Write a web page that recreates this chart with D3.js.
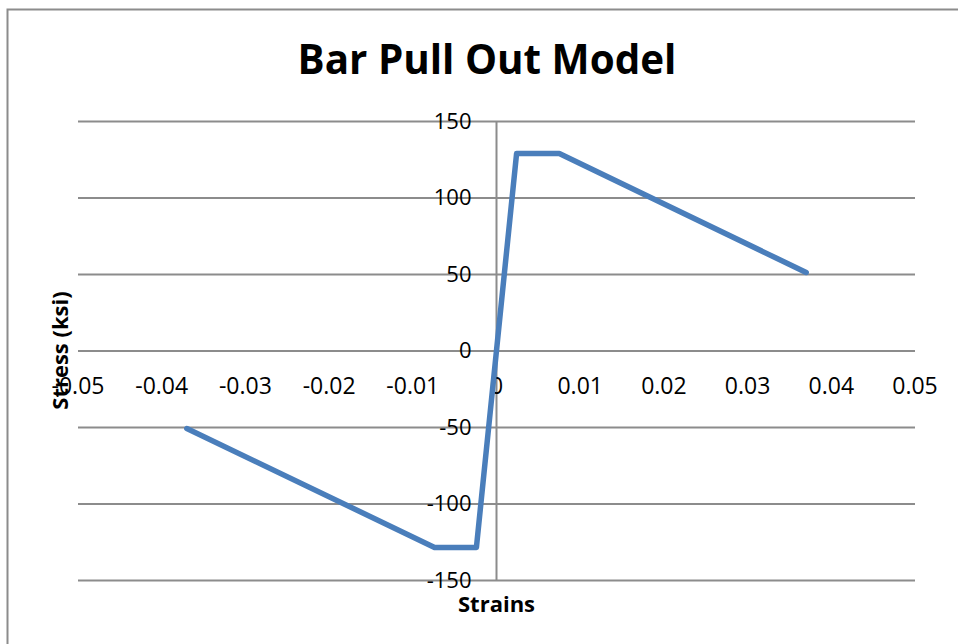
<!doctype html>
<html lang="en">
<head>
  <meta charset="utf-8">
  <title>Bar Pull Out Model</title>
  <style>
    body { margin: 0; background: #fff; }
    svg { display: block; }
    text { font-family: "Open Sans", "Liberation Sans", sans-serif; fill: #000; }
  </style>
</head>
<body>
  <script src="https://cdn.jsdelivr.net/npm/d3@7"></script>
  <script>
    // data
    var strains = [-0.037, -0.0074, -0.0024, 0.0024, 0.0075, 0.037]
    var stresses = [-51, -128.7, -128.7, 128.7, 128.7, 51]
    var xTicks = [-0.05, -0.04, -0.03, -0.02, -0.01, 0, 0.01, 0.02, 0.03, 0.04, 0.05]
    var yTicks = [-150, -100, -50, 0, 50, 100, 150]

    var W = 958, H = 644
    var plot = { left: 78, right: 915, top: 121, bottom: 580 }

    var svg = d3.select('body').append('svg')
      .attr('width', W)
      .attr('height', H)

    // outer chart border (only left and top visible)
    svg.append('rect')
      .attr('x', 7.5).attr('y', 9.5)
      .attr('width', W).attr('height', H)
      .style('fill', 'none')
      .style('stroke', '#8c8c8c')
      .style('stroke-width', 2)

    var x = d3.scaleLinear()
      .domain([-0.05, 0.05])
      .range([plot.left, plot.right])

    var y = d3.scaleLinear()
      .domain([-150, 150])
      .range([plot.bottom, plot.top])

    // horizontal gridlines
    svg.append('g')
      .attr('class', 'grid')
      .attr('transform', 'translate(' + plot.left + ',0)')
      .call(d3.axisRight(y).tickValues(yTicks).tickSize(plot.right - plot.left).tickFormat(''))
      .call(function(g) { g.select('.domain').remove() })
      .selectAll('line')
        .style('stroke', '#8c8c8c')
        .style('stroke-width', 2)

    // vertical axis line at x = 0
    svg.append('line')
      .attr('x1', x(0)).attr('x2', x(0))
      .attr('y1', plot.top).attr('y2', plot.bottom)
      .style('stroke', '#8c8c8c')
      .style('stroke-width', 2)

    // y tick labels next to the vertical axis
    svg.append('g')
      .selectAll('text')
      .data(yTicks)
      .enter().append('text')
        .attr('x', x(0) - 25)
        .attr('y', function(d) { return y(d) })
        .attr('dy', '0.35em')
        .attr('text-anchor', 'end')
        .style('font-size', '22px')
        .text(function(d) { return String(d) })

    // x tick labels below the horizontal zero line
    svg.append('g')
      .selectAll('text')
      .data(xTicks)
      .enter().append('text')
        .attr('x', function(d) { return x(d) })
        .attr('y', y(0) + 35)
        .attr('dy', '0.35em')
        .attr('text-anchor', 'middle')
        .style('font-size', '23px')
        .text(function(d) { return String(d) })

    var line = d3.line()
      .x(function(d) { return x(d[0]) })
      .y(function(d) { return y(d[1]) })

    svg.append('path')
      .datum(d3.zip(strains, stresses))
      .attr('d', line)
      .style('fill', 'none')
      .style('stroke', '#4a7ebb')
      .style('stroke-width', 5.5)
      .style('stroke-linejoin', 'round')
      .style('stroke-linecap', 'round')

    // title
    var title = svg.append('text')
      .attr('x', 487)
      .attr('y', 74)
      .attr('text-anchor', 'middle')
      .style('font-weight', 'bold')
      .style('font-size', '40px')
      .text('Bar Pull Out Model')
    var tw = title.node().getComputedTextLength()
    title.style('font-size', (40 * 379 / tw) + 'px')

    // axis titles
    svg.append('text')
      .attr('x', x(0))
      .attr('y', 604)
      .attr('dy', '0.35em')
      .attr('text-anchor', 'middle')
      .style('font-weight', 'bold')
      .style('font-size', '22px')
      .text('Strains')

    svg.append('text')
      .attr('transform', 'translate(60,' + y(0) + ') rotate(-90)')
      .attr('dy', '0.35em')
      .attr('text-anchor', 'middle')
      .style('font-weight', 'bold')
      .style('font-size', '22px')
      .text('Stress (ksi)')
  </script>
</body>
</html>
